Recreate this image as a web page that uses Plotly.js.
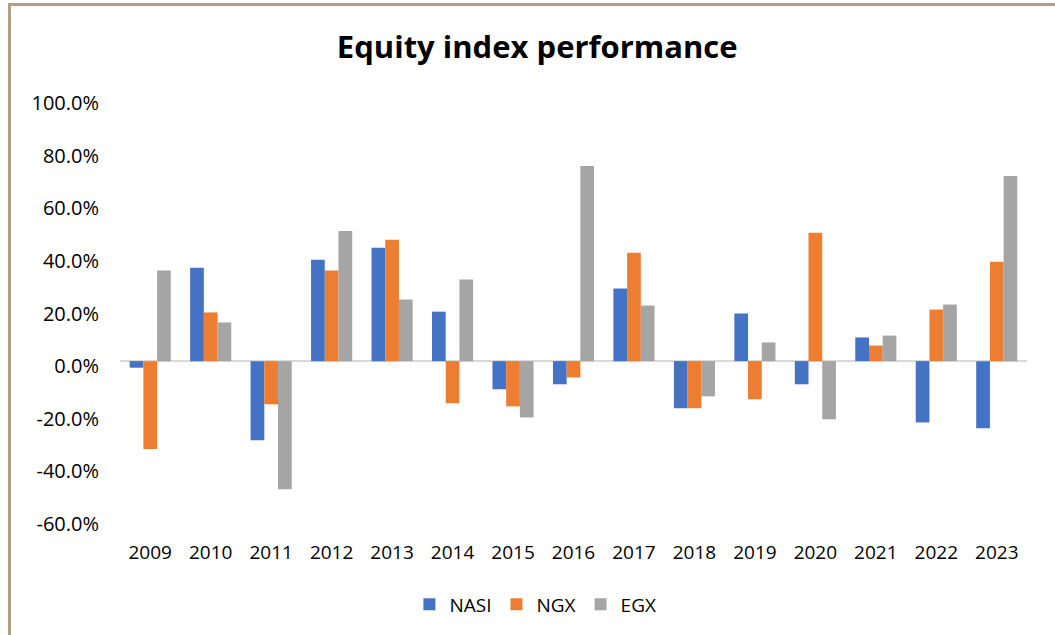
<!DOCTYPE html>
<html>
<head>
<meta charset="utf-8">
<script src="https://cdn.plot.ly/plotly-3.0.1.min.js"></script>
<style>
  html, body { margin: 0; padding: 0; background: #fff; }
  #chart { position: absolute; left: 0; top: 0; width: 1055px; height: 635px; }
  #frame { position: absolute; left: 8px; top: 3px; width: 1060px; height: 640px;
           border-left: 3px solid #b39f7f; border-top: 3px solid #b39f7f; pointer-events: none; }
</style>
</head>
<body>
<div id="chart"></div>
<div id="frame"></div>
<script>
const years = ['2009','2010','2011','2012','2013','2014','2015','2016','2017','2018','2019','2020','2021','2022','2023'];
const nasi = [-2.5, 35.5, -30.1, 38.5, 43.1, 18.8, -10.7, -8.8, 27.6, -17.9, 18.1, -8.8, 9.0, -23.3, -25.5];
const ngx  = [-33.4, 18.5, -16.4, 34.4, 46.1, -16.0, -17.2, -6.2, 41.2, -17.9, -14.5, 48.8, 5.9, 19.6, 37.8];
const egx  = [34.4, 14.7, -48.7, 49.5, 23.4, 31.0, -21.4, 74.2, 21.1, -13.4, 7.1, -22.1, 9.7, 21.5, 70.4];
const seriesNames = ['NASI', 'NGX', 'EGX'];
const seriesColors = ['#4472C4', '#ED7D31', '#A5A5A5'];
const yTickVals = [-60, -40, -20, 0, 20, 40, 60, 80, 100];
const yTickText = ['-60.0%', '-40.0%', '-20.0%', '0.0%', '20.0%', '40.0%', '60.0%', '80.0%', '100.0%'];

const font = 'Open Sans, Lato, sans-serif';
const traces = [nasi, ngx, egx].map((vals, i) => ({
  type: 'bar', x: years, y: vals, name: seriesNames[i],
  marker: { color: seriesColors[i], line: { width: 0 } },
  hoverinfo: 'x+y+name'
}));

const layout = {
  width: 1055, height: 635,
  margin: { l: 120, r: 28, t: 98, b: 116 },
  paper_bgcolor: '#ffffff', plot_bgcolor: '#ffffff',
  barmode: 'group', bargap: 0.32, bargroupgap: 0,
  title: { text: '<b>Equity index performance</b>', x: 0.46, xref: 'paper', xanchor: 'center',
           y: 0.926, yref: 'container', yanchor: 'middle',
           font: { family: font, size: 31, color: '#000' } },
  xaxis: { type: 'category', showgrid: false, showline: false, zeroline: false,
           ticks: 'outside', ticklen: 16, tickcolor: 'rgba(0,0,0,0)',
           tickfont: { family: font, size: 19, color: '#000' } },
  yaxis: { range: [-60, 100], tickmode: 'array', tickvals: yTickVals, ticktext: yTickText,
           showgrid: false, showline: false,
           zeroline: true, zerolinecolor: '#d9d9d9', zerolinewidth: 2,
           ticks: 'outside', ticklen: 16, tickcolor: 'rgba(0,0,0,0)',
           ticklabelshift: 5,
           tickfont: { family: font, size: 20, color: '#000' } },
  legend: { orientation: 'h', x: 0.458, xanchor: 'center', y: -0.203, yanchor: 'middle',
            font: { family: font, size: 19, color: '#000' }, itemwidth: 30, traceorder: 'normal' },
  showlegend: true
};

Plotly.newPlot('chart', traces, layout, { displayModeBar: false, staticPlot: true });
</script>
</body>
</html>
